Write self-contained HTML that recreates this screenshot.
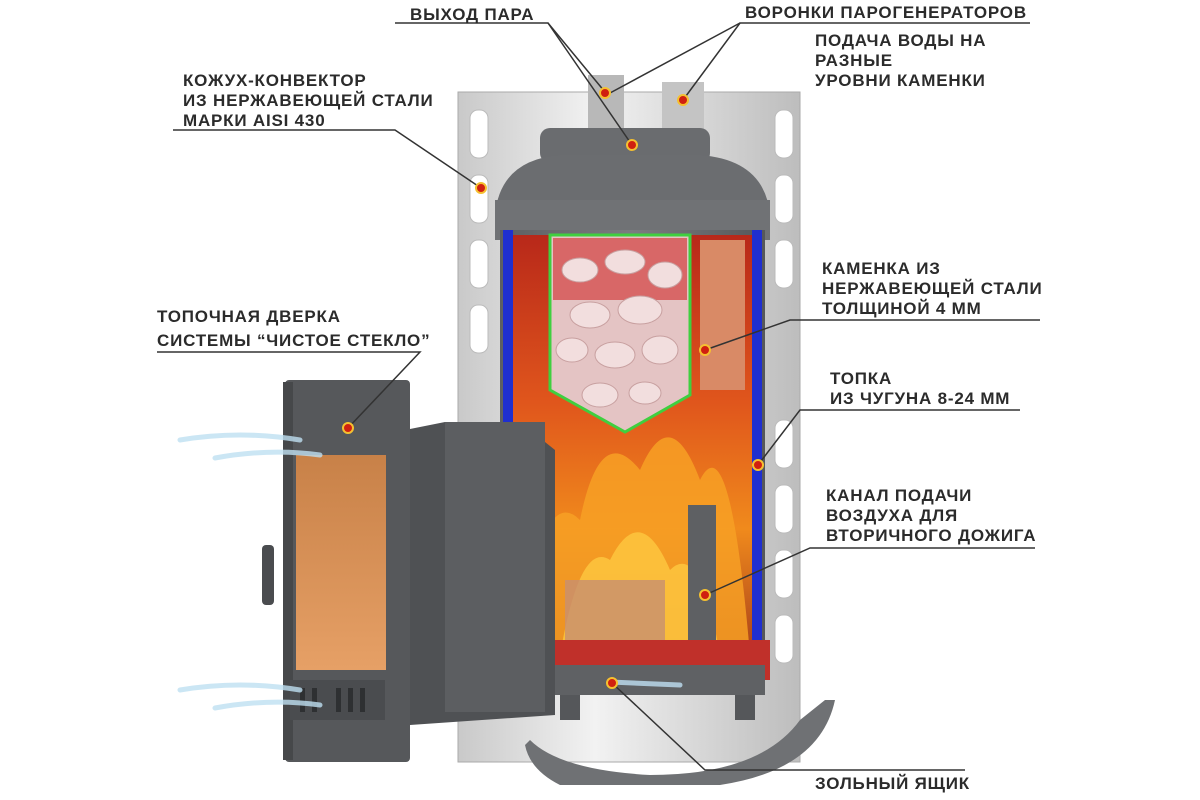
<!DOCTYPE html>
<html><head><meta charset="utf-8"><style>
html,body{margin:0;padding:0;background:#fff}
svg{display:block}
text{font-family:"Liberation Sans",sans-serif;font-weight:bold;font-size:17px;fill:#2b2b2b;letter-spacing:0.8px}
</style></head><body>
<svg width="1200" height="800" viewBox="0 0 1200 800" xmlns="http://www.w3.org/2000/svg">
<defs>
<linearGradient id="steel" x1="0" x2="1"><stop offset="0" stop-color="#c9c9c9"/><stop offset="0.4" stop-color="#f2f2f2"/><stop offset="1" stop-color="#bdbdbd"/></linearGradient>
<linearGradient id="fire" x1="0" y1="0" x2="0" y2="1"><stop offset="0" stop-color="#b8281a"/><stop offset="0.4" stop-color="#e0561c"/><stop offset="0.7" stop-color="#f08a1c"/><stop offset="1" stop-color="#a8401a"/></linearGradient>
<linearGradient id="glass" x1="0" y1="0" x2="0" y2="1"><stop offset="0" stop-color="#c88148"/><stop offset="1" stop-color="#e6a066"/></linearGradient>
<linearGradient id="body" x1="0" x2="1"><stop offset="0" stop-color="#5d5f62"/><stop offset="0.5" stop-color="#7b7d80"/><stop offset="1" stop-color="#55575a"/></linearGradient>
</defs>
<!-- casing -->
<rect x="458" y="92" width="342" height="670" fill="url(#steel)" stroke="#aaa"/>
<g fill="#fff" stroke="#bbb">
<rect x="470" y="110" width="18" height="48" rx="8"/><rect x="470" y="175" width="18" height="48" rx="8"/><rect x="470" y="240" width="18" height="48" rx="8"/><rect x="470" y="305" width="18" height="48" rx="8"/>
<rect x="775" y="110" width="18" height="48" rx="8"/><rect x="775" y="175" width="18" height="48" rx="8"/><rect x="775" y="240" width="18" height="48" rx="8"/><rect x="775" y="420" width="18" height="48" rx="8"/><rect x="775" y="485" width="18" height="48" rx="8"/><rect x="775" y="550" width="18" height="48" rx="8"/><rect x="775" y="615" width="18" height="48" rx="8"/>
</g>
<!-- funnels -->
<rect x="588" y="75" width="36" height="75" fill="#b8b8b8"/>
<rect x="662" y="82" width="42" height="70" fill="#c4c4c4"/>
<!-- stove body -->
<rect x="540" y="128" width="170" height="35" rx="10" fill="#6a6c6f"/>
<path d="M495 215 Q500 160 560 155 L700 155 Q765 160 770 215 Z" fill="#6b6d70"/>
<rect x="495" y="200" width="275" height="40" fill="#707275"/>
<rect x="500" y="230" width="265" height="440" fill="url(#body)"/>
<rect x="503" y="230" width="10" height="410" fill="#1f2fd0"/>
<rect x="752" y="230" width="10" height="410" fill="#1f2fd0"/>
<rect x="513" y="235" width="239" height="420" fill="url(#fire)"/>
<path d="M520 655 Q540 480 580 520 Q600 420 640 470 Q670 400 700 480 Q730 420 750 655 Z" fill="#f7a025" opacity="0.85"/>
<path d="M560 655 Q580 540 610 560 Q640 500 670 570 Q700 540 720 655 Z" fill="#ffcf45" opacity="0.7"/>
<rect x="700" y="240" width="45" height="150" fill="#d98a66"/>
<!-- stones -->
<path d="M550 235 L690 235 L690 395 L625 432 L550 390 Z" fill="#e4c4c4" stroke="#3fcf3f" stroke-width="3"/>
<path d="M553 238 L687 238 L687 300 L553 300 Z" fill="#d02a2a" opacity="0.6"/>
<g fill="#f2dede" stroke="#c8a0a0">
<ellipse cx="580" cy="270" rx="18" ry="12"/><ellipse cx="625" cy="262" rx="20" ry="12"/><ellipse cx="665" cy="275" rx="17" ry="13"/>
<ellipse cx="590" cy="315" rx="20" ry="13"/><ellipse cx="640" cy="310" rx="22" ry="14"/><ellipse cx="572" cy="350" rx="16" ry="12"/>
<ellipse cx="615" cy="355" rx="20" ry="13"/><ellipse cx="660" cy="350" rx="18" ry="14"/><ellipse cx="600" cy="395" rx="18" ry="12"/><ellipse cx="645" cy="393" rx="16" ry="11"/>
</g>
<rect x="565" y="580" width="100" height="60" fill="#c89070" opacity="0.8"/>
<rect x="688" y="505" width="28" height="165" fill="#5e6063"/>
<!-- bottom -->
<path d="M510 640 L770 640 L770 680 L510 680 Z" fill="#c0302a"/>
<rect x="545" y="665" width="220" height="30" fill="#5f6164"/>
<rect x="560" y="695" width="20" height="25" fill="#55575a"/><rect x="735" y="695" width="20" height="25" fill="#55575a"/>
<path d="M530 740 Q560 770 650 775 Q760 775 800 720 L825 700 L835 700 Q820 770 720 785 L560 785 Q530 770 525 745 Z" fill="#6f7174"/>
<!-- firebox tunnel -->
<path d="M405 430 L445 422 L540 438 L555 450 L555 715 L410 725 Z" fill="#4f5154"/>
<rect x="445" y="422" width="100" height="290" fill="#5c5e61"/>
<!-- door -->
<rect x="285" y="380" width="125" height="382" rx="4" fill="#56585b"/>
<rect x="283" y="382" width="10" height="378" fill="#46484a"/>
<rect x="296" y="455" width="90" height="215" fill="url(#glass)"/>
<rect x="290" y="680" width="95" height="40" fill="#4a4c4f"/>
<g fill="#2e3032"><rect x="300" y="688" width="5" height="24"/><rect x="312" y="688" width="5" height="24"/><rect x="336" y="688" width="5" height="24"/><rect x="348" y="688" width="5" height="24"/><rect x="360" y="688" width="5" height="24"/></g>
<rect x="262" y="545" width="12" height="60" rx="4" fill="#4a4c4f"/>
<g stroke="#bfe0f2" stroke-width="5" fill="none" stroke-linecap="round" opacity="0.8">
<path d="M180 440 Q240 430 300 440"/><path d="M215 458 Q270 448 320 455"/>
<path d="M180 690 Q240 680 300 690"/><path d="M215 708 Q270 698 320 705"/>
<path d="M610 682 L680 685"/>
</g>
<g stroke="#333" stroke-width="1.5" fill="none">
<polyline points="395,23 548,23 605,92"/><line x1="548" y1="23" x2="632" y2="145"/>
<polyline points="1030,23 740,23 683,100"/><line x1="740" y1="23" x2="610" y2="93"/>
<polyline points="173,130 395,130 481,188"/>
<polyline points="1040,320 790,320 705,350"/>
<polyline points="157,352 420,352 348,428"/>
<polyline points="1020,410 800,410 758,465"/>
<polyline points="1035,548 810,548 705,595"/>
<polyline points="965,770 705,770 612,683"/>
</g>
<g fill="#d02010" stroke="#f5c030" stroke-width="2">
<circle cx="605" cy="93" r="5"/><circle cx="632" cy="145" r="5"/><circle cx="683" cy="100" r="5"/><circle cx="481" cy="188" r="5"/>
<circle cx="705" cy="350" r="5"/><circle cx="348" cy="428" r="5"/><circle cx="758" cy="465" r="5"/><circle cx="705" cy="595" r="5"/><circle cx="612" cy="683" r="5"/>
</g>
<text x="410" y="20">ВЫХОД ПАРА</text>
<text x="745" y="18">ВОРОНКИ ПАРОГЕНЕРАТОРОВ</text>
<text x="815" y="46">ПОДАЧА ВОДЫ НА</text>
<text x="815" y="66">РАЗНЫЕ</text>
<text x="815" y="86">УРОВНИ КАМЕНКИ</text>
<text x="183" y="86">КОЖУХ-КОНВЕКТОР</text>
<text x="183" y="106">ИЗ НЕРЖАВЕЮЩЕЙ СТАЛИ</text>
<text x="183" y="126">МАРКИ AISI 430</text>
<text x="822" y="274">КАМЕНКА ИЗ</text>
<text x="822" y="294">НЕРЖАВЕЮЩЕЙ СТАЛИ</text>
<text x="822" y="314">ТОЛЩИНОЙ 4 ММ</text>
<text x="157" y="322">ТОПОЧНАЯ ДВЕРКА</text>
<text x="157" y="346">СИСТЕМЫ “ЧИСТОЕ СТЕКЛО”</text>
<text x="830" y="384">ТОПКА</text>
<text x="830" y="404">ИЗ ЧУГУНА 8-24 ММ</text>
<text x="826" y="501">КАНАЛ ПОДАЧИ</text>
<text x="826" y="521">ВОЗДУХА ДЛЯ</text>
<text x="826" y="541">ВТОРИЧНОГО ДОЖИГА</text>
<text x="815" y="789">ЗОЛЬНЫЙ ЯЩИК</text>
</svg>
</body></html>
